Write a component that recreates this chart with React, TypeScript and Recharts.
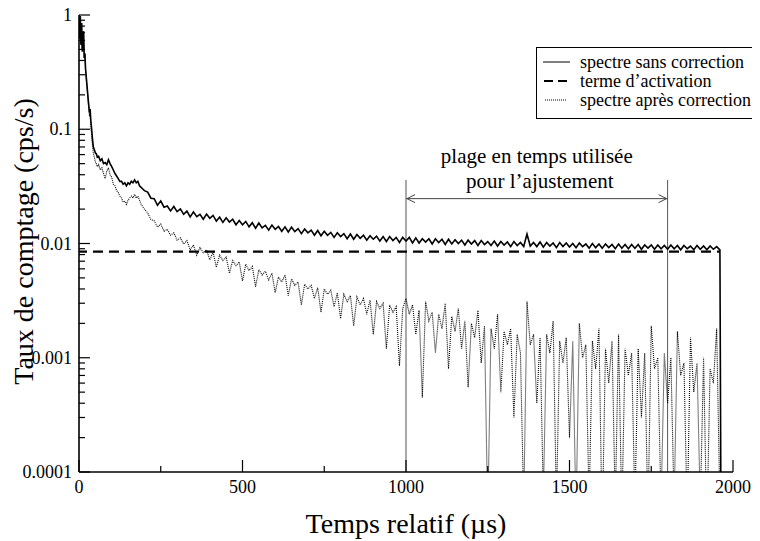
import React from "react";
import { ComposedChart, Line, XAxis, YAxis, ReferenceLine, Legend } from "recharts";

const FONT = "Liberation Serif, Tinos, Times New Roman, DejaVu Serif, Noto Serif, serif";

// temps relatif (µs)
const temps = [
  0, 2, 4, 6, 8, 10, 12, 14, 16, 18, 20, 22, 24, 26, 28, 30, 32, 34, 36, 38, 40, 42, 44,
  47, 50, 53, 56,
  60, 65, 70, 75, 80, 85, 90, 95, 100, 105, 110, 115, 120, 125, 130, 135, 140, 145, 150,
  155, 160, 165, 170, 175, 180, 185, 190, 195, 200,
  210, 220, 230, 240, 250, 260, 270, 280, 290, 300,
  310, 320, 330, 340, 350, 360, 370, 380, 390, 400,
  410, 420, 430, 440, 450, 460, 470, 480, 490, 500,
  510, 520, 530, 540, 550, 560, 570, 580, 590, 600,
  610, 620, 630, 640, 650, 660, 670, 680, 690, 700,
  710, 720, 730, 740, 750, 760, 770, 780, 790, 800,
  810, 820, 830, 840, 850, 860, 870, 880, 890, 900,
  910, 920, 930, 940, 950, 960, 970, 980, 990, 1000,
  1010, 1020, 1030, 1040, 1050, 1060, 1070, 1080, 1090, 1100,
  1110, 1120, 1130, 1140, 1150, 1160, 1170, 1180, 1190, 1200,
  1210, 1220, 1230, 1240, 1250, 1260, 1270, 1280, 1290, 1300,
  1310, 1320, 1330, 1340, 1350, 1360, 1370, 1380, 1390, 1400,
  1410, 1420, 1430, 1440, 1450, 1460, 1470, 1480, 1490, 1500,
  1510, 1520, 1530, 1540, 1550, 1560, 1570, 1580, 1590, 1600,
  1610, 1620, 1630, 1640, 1650, 1660, 1670, 1680, 1690, 1700,
  1710, 1720, 1730, 1740, 1750, 1760, 1770, 1780, 1790, 1800,
  1810, 1820, 1830, 1840, 1850, 1860, 1870, 1880, 1890, 1900,
  1910, 1920, 1930, 1940, 1950, 1960, 1964,
];

// spectre sans correction (cps/s)
const sansCorrection = [
  0.95, 0.62, 0.98, 0.55, 0.85, 0.48, 0.66, 0.72, 0.42, 0.46,
  0.34, 0.29, 0.25, 0.215, 0.185, 0.16, 0.14, 0.15, 0.12, 0.105,
  0.09, 0.078, 0.07,
  0.066, 0.062, 0.061, 0.057,
  0.058, 0.053, 0.055, 0.05, 0.051, 0.049, 0.054, 0.05, 0.047, 0.044, 0.041, 0.039, 0.037, 0.035,
  0.035, 0.033, 0.034, 0.032, 0.034, 0.033, 0.035, 0.034, 0.036, 0.034, 0.035, 0.032, 0.031, 0.03, 0.029,
  0.0282, 0.0249, 0.0247, 0.0216, 0.0236, 0.0208, 0.0213, 0.0193, 0.0211, 0.019,
  0.0201, 0.018, 0.0192, 0.0171, 0.0189, 0.0172, 0.018, 0.0163, 0.0181, 0.0166,
  0.0176, 0.0157, 0.017, 0.0153, 0.0168, 0.0154, 0.0163, 0.0146, 0.0159, 0.0146,
  0.0156, 0.014, 0.0152, 0.0136, 0.0151, 0.0137, 0.0144, 0.0131, 0.0145, 0.0133,
  0.0141, 0.0128, 0.014, 0.0126, 0.0139, 0.0127, 0.0135, 0.0122, 0.0134, 0.0124,
  0.0131, 0.0118, 0.013, 0.0117, 0.0128, 0.0118, 0.0125, 0.0113, 0.0124, 0.0115,
  0.0122, 0.011, 0.0121, 0.0109, 0.012, 0.0111, 0.0118, 0.0107, 0.0117, 0.0109,
  0.0116, 0.0105, 0.0115, 0.0104, 0.0115, 0.0106, 0.0113, 0.0102, 0.0113, 0.0105,
  0.0113, 0.0101, 0.0112, 0.0101, 0.011, 0.0103, 0.011, 0.0099, 0.011, 0.0102,
  0.0109, 0.0098, 0.0109, 0.0099, 0.0108, 0.01, 0.0107, 0.0097, 0.0107, 0.0099,
  0.0106, 0.0096, 0.0106, 0.0098, 0.0104, 0.0096, 0.0105, 0.0095, 0.0104, 0.0097,
  0.0103, 0.0094, 0.0104, 0.0096, 0.0102, 0.0094, 0.0121, 0.0095, 0.0102, 0.0094,
  0.0103, 0.0093, 0.0102, 0.0095, 0.0101, 0.0092, 0.0102, 0.0094, 0.0101, 0.0093,
  0.01, 0.0092, 0.0101, 0.0094, 0.0099, 0.0091, 0.01, 0.0092, 0.0099, 0.0091,
  0.0099, 0.0092, 0.0098, 0.009, 0.0099, 0.0091, 0.0098, 0.009, 0.0098, 0.0091,
  0.0098, 0.0089, 0.0097, 0.0091, 0.0097, 0.0089, 0.0097, 0.009, 0.0096, 0.0089,
  0.0097, 0.009, 0.0096, 0.0088, 0.0096, 0.009, 0.0095, 0.0088, 0.0096, 0.0089,
  0.0095, 0.0088, 0.0095, 0.0089, 0.0094, 0.0088, 0.00001,
];

// spectre après correction (cps/s)
const apresCorrection = [
  0.95, 0.62, 0.98, 0.55, 0.85, 0.48, 0.66, 0.72, 0.42, 0.46,
  0.33, 0.28, 0.24, 0.205, 0.175, 0.15, 0.13, 0.14, 0.11, 0.095,
  0.08, 0.069, 0.061,
  0.057, 0.052, 0.05, 0.047,
  0.049, 0.044, 0.046, 0.041, 0.037, 0.043, 0.046, 0.04, 0.038, 0.033, 0.032, 0.029, 0.028, 0.026,
  0.025, 0.023, 0.0235, 0.022, 0.024, 0.025, 0.026, 0.025, 0.027, 0.025, 0.026, 0.024, 0.022, 0.021, 0.02,
  0.0185, 0.0162, 0.0158, 0.0139, 0.0148, 0.0128, 0.0133, 0.0118, 0.0124, 0.0107,
  0.0112, 0.0099, 0.0106, 0.0088, 0.0097, 0.0079, 0.0092, 0.0083, 0.0088, 0.0072,
  0.0084, 0.0062, 0.0079, 0.0071, 0.0076, 0.0055, 0.0071, 0.0064, 0.0069, 0.0047,
  0.0066, 0.0058, 0.0063, 0.0042, 0.0059, 0.0053, 0.0057, 0.0048, 0.0055, 0.0037,
  0.0051, 0.0046, 0.0053, 0.0035, 0.0049, 0.0043, 0.0046, 0.0029, 0.0044, 0.004,
  0.0043, 0.0033, 0.0041, 0.0025, 0.004, 0.0036, 0.0039, 0.0028, 0.0037, 0.0022,
  0.0036, 0.0031, 0.0035, 0.0019, 0.0034, 0.0029, 0.0033, 0.0024, 0.0032, 0.0016,
  0.0031, 0.0027, 0.003, 0.0012, 0.0029, 0.0025, 0.0028, 0.00085, 0.0027, 0.0033,
  0.0024, 0.0029, 0.0016, 0.0026, 0.00045, 0.0031, 0.0021, 0.0025, 0.0011, 0.0024,
  0.0018, 0.003, 0.0008, 0.0023, 0.0017, 0.0027, 0.0012, 0.0021, 0.00055, 0.002,
  0.0015, 0.0026, 0.0009, 0.0019, 0.00004, 0.0018, 0.0012, 0.0024, 0.0005, 0.0017,
  0.0013, 0.0018, 0.0003, 0.0016, 0.0011, 0.00005, 0.0031, 0.0013, 0.0016, 0.0004,
  0.0015, 0.00006, 0.0016, 0.0011, 0.0021, 0.00005, 0.0014, 0.0009, 0.0015, 0.0002,
  0.0014, 0.00004, 0.002, 0.001, 0.0013, 0.00005, 0.0014, 0.0008, 0.0018, 0.00003,
  0.0012, 0.0006, 0.0014, 0.00005, 0.0016, 0.00004, 0.0012, 0.0007, 0.0011, 0.00005,
  0.0012, 0.0003, 0.0011, 0.00004, 0.0019, 0.0008, 0.001, 0.00005, 0.0011, 0.0004,
  0.001, 0.00005, 0.0017, 0.0007, 0.0009, 0.00004, 0.0015, 0.0005, 0.0009, 0.00005,
  0.001, 0.00003, 0.0008, 0.0006, 0.0018, 0.00005, 0.00001,
];

// terme d'activation
const activationTemps = [0, 1960];
const activation = [0.0085, 0.0085];

const xMajorTicks = [0, 500, 1000, 1500, 2000];
const xMinorTicks = [250, 750, 1250, 1750];
const yMajorTicks = [0.0001, 0.001, 0.01, 0.1, 1];
const yMinorTicks = [
  0.0002, 0.0003, 0.0004, 0.0005, 0.0006, 0.0007, 0.0008, 0.0009,
  0.002, 0.003, 0.004, 0.005, 0.006, 0.007, 0.008, 0.009,
  0.02, 0.03, 0.04, 0.05, 0.06, 0.07, 0.08, 0.09,
  0.2, 0.3, 0.4, 0.5, 0.6, 0.7, 0.8, 0.9,
];

// plage en temps utilisée pour l'ajustement
const plage = [1000, 1800];
const plageHaut = 0.036;
const plageFleche = 0.0247;

const sansData = temps.map((t, i) => ({ t, v: sansCorrection[i] }));
const apresData = temps.map((t, i) => ({ t, v: apresCorrection[i] }));
const activationData = activationTemps.map((t, i) => ({ t, v: activation[i] }));

const AXIS = { stroke: "#000", strokeWidth: 1.6 };
const txt = (size: number) => ({ fontFamily: FONT, fontSize: size });

const BottomTick = ({ x, y, payload }: any) => {
  const major = xMajorTicks.includes(payload.value);
  return (
    <g>
      <line x1={x} x2={x} y1={y} y2={y - (major ? 12 : 6)} stroke="#000" strokeWidth={1.2} />
      {major && (
        <text x={x} y={y + 21} textAnchor="middle" style={txt(18)} fill="#000">
          {payload.value}
        </text>
      )}
    </g>
  );
};

const TopTick = ({ x, y, payload }: any) => {
  const major = xMajorTicks.includes(payload.value);
  return <line x1={x} x2={x} y1={y} y2={y + (major ? 12 : 6)} stroke="#000" strokeWidth={1.2} />;
};

const LeftTick = ({ x, y, payload }: any) => {
  const major = yMajorTicks.includes(payload.value);
  return (
    <g>
      <line x1={x} x2={x + (major ? 11 : 6)} y1={y} y2={y} stroke="#000" strokeWidth={1.2} />
      {major && (
        <text x={x - 7} y={y + 6} textAnchor="end" style={txt(18)} fill="#000">
          {String(payload.value)}
        </text>
      )}
    </g>
  );
};

const RightTick = ({ x, y, payload }: any) => {
  const major = yMajorTicks.includes(payload.value);
  return <line x1={x} x2={x - (major ? 11 : 6)} y1={y} y2={y} stroke="#000" strokeWidth={1.2} />;
};

const TitreY = ({ viewBox }: any) => {
  const cx = viewBox.x + 25;
  const cy = viewBox.y + viewBox.height / 2 - 2;
  return (
    <text x={cx} y={cy} transform={`rotate(-90, ${cx}, ${cy})`} textAnchor="middle" style={txt(28)} fill="#000">
      Taux de comptage (cps/s)
    </text>
  );
};

const TitreX = ({ viewBox }: any) => (
  <text x={viewBox.x + viewBox.width / 2} y={viewBox.y + 61} textAnchor="middle" style={txt(28)} fill="#000">
    Temps relatif (µs)
  </text>
);

const FlecheDouble = ({ x1, y1, x2, y2 }: any) => (
  <g>
    <line x1={x1} y1={y1} x2={x2} y2={y2} stroke="#444" strokeWidth={1} />
    <path d={`M${x1 + 9},${y1 - 4} L${x1 + 1},${y1} L${x1 + 9},${y1 + 4}`} fill="none" stroke="#444" />
    <path d={`M${x2 - 9},${y2 - 4} L${x2 - 1},${y2} L${x2 - 9},${y2 + 4}`} fill="none" stroke="#444" />
    <text x={(x1 + x2) / 2} y={y1 - 36} textAnchor="middle" style={txt(21)} fill="#000">
      plage en temps utilisée
    </text>
    <text x={(x1 + x2) / 2 + 3} y={y1 - 11} textAnchor="middle" style={txt(21)} fill="#000">
      pour l’ajustement
    </text>
  </g>
);

const legendItems = [
  { label: "spectre sans correction", dash: undefined, width: 1, x1: 7, x2: 34 },
  { label: "terme d’activation", dash: "9 5", width: 2.2, x1: 8, x2: 31 },
  { label: "spectre après correction", dash: "1 1", width: 1, x1: 9, x2: 30 },
];

const LegendBox = () => (
  <svg width={220} height={72} style={{ display: "block", background: "#fff" }}>
    <rect x={0.5} y={0.5} width={219} height={71} fill="#fff" stroke="#000" strokeWidth={1} />
    {legendItems.map((it, i) => {
      const cy = 15 + i * 19;
      return (
        <g key={it.label}>
          <line x1={it.x1} x2={it.x2} y1={cy} y2={cy} stroke="#000" strokeWidth={it.width} strokeDasharray={it.dash} />
          <text x={44} y={cy + 6} style={txt(18)} fill="#000">{it.label}</text>
        </g>
      );
    })}
  </svg>
);

export default function App() {
  return (
    <div style={{ width: 760, height: 541, margin: "-8px 0 0 -8px", fontFamily: FONT, background: "#fff" }}>
      <ComposedChart width={760} height={541} margin={{ top: 15, right: 27, bottom: 0, left: 8 }} style={{ fontFamily: FONT }}>
        <XAxis xAxisId="b" dataKey="t" type="number" domain={[0, 2000]} allowDataOverflow
          ticks={[...xMajorTicks, ...xMinorTicks]} interval={0} tickSize={0} tickMargin={0}
          tickLine={false} tick={<BottomTick />} axisLine={AXIS} height={69} label={TitreX} />
        <XAxis xAxisId="t" orientation="top" type="number" domain={[0, 2000]} allowDataOverflow
          ticks={[...xMajorTicks, ...xMinorTicks]} interval={0} tickSize={0} tickMargin={0}
          tickLine={false} tick={<TopTick />} axisLine={AXIS} height={0} />
        <YAxis yAxisId="l" type="number" scale="log" domain={[0.0001, 1]} allowDataOverflow
          ticks={[...yMajorTicks, ...yMinorTicks]} interval={0} tickSize={0} tickMargin={0}
          tickLine={false} tick={<LeftTick />} axisLine={AXIS} width={71} label={TitreY} />
        <YAxis yAxisId="r" orientation="right" type="number" scale="log" domain={[0.0001, 1]} allowDataOverflow
          ticks={[...yMajorTicks, ...yMinorTicks]} interval={0} tickSize={0} tickMargin={0}
          tickLine={false} tick={<RightTick />} axisLine={AXIS} width={0} />

        <ReferenceLine xAxisId="b" yAxisId="l" segment={[{ x: plage[0], y: plageHaut }, { x: plage[0], y: 0.0001 }]}
          stroke="#555" strokeWidth={1} />
        <ReferenceLine xAxisId="b" yAxisId="l" segment={[{ x: plage[1], y: plageHaut }, { x: plage[1], y: 0.0001 }]}
          stroke="#555" strokeWidth={1} />

        <Line xAxisId="b" yAxisId="l" data={apresData} dataKey="v" type="linear" stroke="#000"
          strokeWidth={1.1} strokeDasharray="1 1" dot={false} activeDot={false} isAnimationActive={false} />
        <Line xAxisId="b" yAxisId="l" data={activationData} dataKey="v" type="linear" stroke="#000"
          strokeWidth={2.2} strokeDasharray="10 6" strokeDashoffset={2} dot={false} activeDot={false}
          isAnimationActive={false} />
        <Line xAxisId="b" yAxisId="l" data={sansData} dataKey="v" type="linear" stroke="#000"
          strokeWidth={1.6} dot={false} activeDot={false} isAnimationActive={false} />

        <ReferenceLine xAxisId="b" yAxisId="l" segment={[{ x: plage[0], y: plageFleche }, { x: plage[1], y: plageFleche }]}
          shape={(p: any) => <FlecheDouble {...p} />} />

        <Legend layout="vertical" align="center" verticalAlign="middle"
          wrapperStyle={{ top: 47, left: 536, width: 220, height: 72 }}
          content={() => <LegendBox />} />
      </ComposedChart>
    </div>
  );
}
